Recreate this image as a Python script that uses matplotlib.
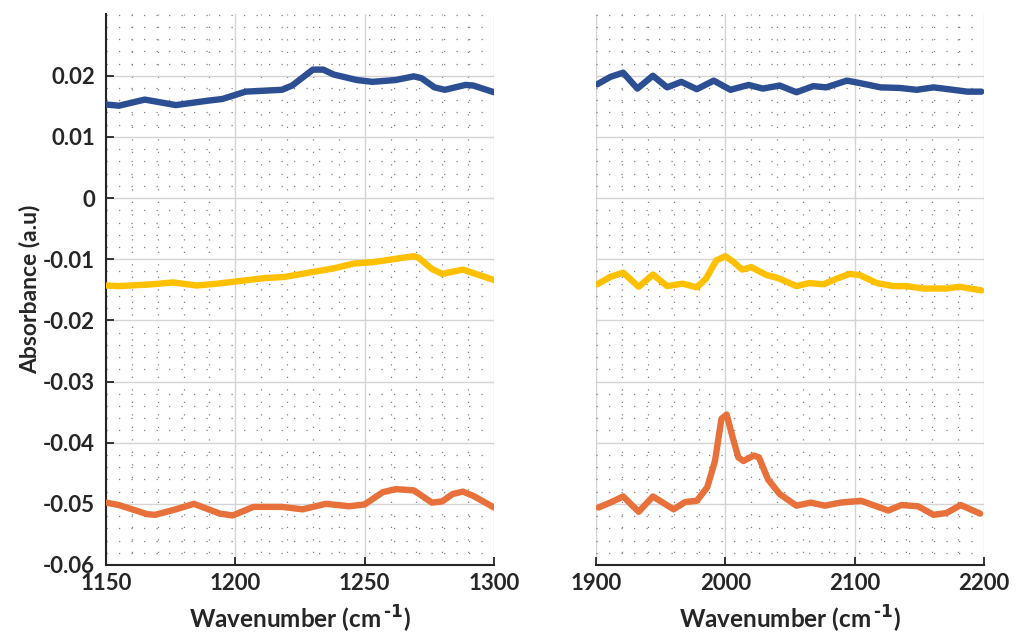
import matplotlib.pyplot as plt
from matplotlib.ticker import MultipleLocator, FixedLocator

plt.rcParams['font.family'] = ['Lato', 'DejaVu Sans']
plt.rcParams['font.weight'] = 'bold'
plt.rcParams['mathtext.default'] = 'bf'

# --- данные: левая область (1150-1300) ---
wn_blue_l = [1150, 1155, 1165, 1177, 1189, 1195, 1204, 1218, 1222, 1230, 1234, 1238,
             1247, 1253, 1262, 1269, 1272, 1277, 1281, 1289, 1292, 1300]
ab_blue_l = [0.0153, 0.0151, 0.0161, 0.0152, 0.0159, 0.0162, 0.0174, 0.0177, 0.0184,
             0.0210, 0.0210, 0.0202, 0.0193, 0.0190, 0.0193, 0.0199, 0.0196, 0.0181,
             0.0177, 0.0185, 0.0184, 0.0173]

wn_yel_l = [1150, 1155, 1168, 1176, 1185, 1193, 1211, 1219, 1238, 1246, 1253, 1261,
            1269, 1271, 1276, 1280, 1288, 1295, 1300]
ab_yel_l = [-0.0143, -0.0144, -0.0141, -0.0138, -0.0143, -0.0140, -0.0131, -0.0129,
            -0.0115, -0.0107, -0.0105, -0.0100, -0.0095, -0.0098, -0.0116, -0.0124,
            -0.0117, -0.0127, -0.0134]

wn_org_l = [1150, 1155, 1166, 1169, 1177, 1184, 1194, 1199, 1207, 1218, 1226, 1235,
            1244, 1250, 1257, 1262, 1269, 1276, 1280, 1284, 1288, 1292, 1300]
ab_org_l = [-0.0498, -0.0502, -0.0517, -0.0518, -0.0509, -0.0500, -0.0516, -0.0519,
            -0.0505, -0.0505, -0.0509, -0.0500, -0.0504, -0.0501, -0.0481, -0.0476,
            -0.0478, -0.0498, -0.0496, -0.0484, -0.0480, -0.0487, -0.0506]

# --- данные: правая область (1900-2200) ---
wn_blue_r = [1901, 1911, 1921, 1932, 1944, 1955, 1966, 1978, 1991, 2004, 2018, 2029,
             2042, 2055, 2068, 2078, 2094, 2104, 2120, 2135, 2148, 2161, 2176, 2187, 2198]
ab_blue_r = [0.0186, 0.0198, 0.0205, 0.0179, 0.0200, 0.0181, 0.0190, 0.0178, 0.0192,
             0.0177, 0.0185, 0.0179, 0.0184, 0.0173, 0.0183, 0.0181, 0.0192, 0.0188,
             0.0181, 0.0180, 0.0177, 0.0181, 0.0177, 0.0174, 0.0174]

wn_yel_r = [1901, 1911, 1921, 1933, 1944, 1955, 1967, 1978, 1985, 1993, 2000, 2006,
            2013, 2020, 2032, 2041, 2055, 2065, 2076, 2086, 2096, 2104, 2117, 2130,
            2140, 2153, 2171, 2181, 2198]
ab_yel_r = [-0.0141, -0.0129, -0.0122, -0.0145, -0.0125, -0.0144, -0.0140, -0.0146,
            -0.0132, -0.0102, -0.0095, -0.0104, -0.0117, -0.0113, -0.0126, -0.0131,
            -0.0144, -0.0139, -0.0141, -0.0132, -0.0124, -0.0126, -0.0139, -0.0144,
            -0.0144, -0.0148, -0.0148, -0.0145, -0.0151]

wn_org_r = [1902, 1911, 1921, 1933, 1944, 1960, 1969, 1978, 1986, 1992, 1997, 2001,
            2005, 2010, 2014, 2022, 2026, 2033, 2042, 2055, 2066, 2077, 2089, 2105,
            2126, 2136, 2149, 2161, 2171, 2182, 2197]
ab_org_r = [-0.0506, -0.0498, -0.0488, -0.0513, -0.0488, -0.0509, -0.0497, -0.0495,
            -0.0473, -0.0430, -0.0361, -0.0354, -0.0386, -0.0424, -0.0430, -0.0421,
            -0.0424, -0.0460, -0.0484, -0.0503, -0.0498, -0.0503, -0.0498, -0.0495,
            -0.0511, -0.0502, -0.0504, -0.0518, -0.0515, -0.0502, -0.0516]

y_ticks = [-0.06, -0.05, -0.04, -0.03, -0.02, -0.01, 0, 0.01, 0.02]
y_labels = ['-0.06', '-0.05', '-0.04', '-0.03', '-0.02', '-0.01', '0', '0.01', '0.02']
x_ticks_l = [1150, 1200, 1250, 1300]
x_ticks_r = [1900, 2000, 2100, 2200]

c_blue = '#2C4F94'
c_yel = '#FFC000'
c_org = '#E8703A'

fig = plt.figure(figsize=(10.16, 6.41), dpi=100)
ax1 = fig.add_axes([0.1043, 0.1186, 0.3819, 0.8596])
ax2 = fig.add_axes([0.5866, 0.1186, 0.3819, 0.8596])

for ax, data, xt in [
    (ax1, [(wn_blue_l, ab_blue_l, c_blue), (wn_yel_l, ab_yel_l, c_yel),
           (wn_org_l, ab_org_l, c_org)], x_ticks_l),
    (ax2, [(wn_blue_r, ab_blue_r, c_blue), (wn_yel_r, ab_yel_r, c_yel),
           (wn_org_r, ab_org_r, c_org)], x_ticks_r),
]:
    for x, y, c in data:
        ax.plot(x, y, color=c, linewidth=4.6, solid_joinstyle='round',
                solid_capstyle='round', zorder=3)
    ax.set_xlim(xt[0], xt[-1])
    ax.set_ylim(-0.06, 0.0301)
    ax.xaxis.set_major_locator(FixedLocator(xt))
    ax.xaxis.set_minor_locator(MultipleLocator((xt[1] - xt[0]) / 5))
    ax.yaxis.set_major_locator(FixedLocator(y_ticks))
    ax.yaxis.set_minor_locator(MultipleLocator(0.002))
    ax.grid(True, which='major', color='#d4d4d4', linewidth=1.0, linestyle='-', zorder=0)
    ax.grid(True, which='minor', color='#808080', linewidth=0.9,
            linestyle=(0, (1, 9)), zorder=0)
    ax.set_axisbelow(True)
    ax.spines['top'].set_visible(False)
    ax.spines['right'].set_visible(False)
    ax.spines['bottom'].set_color('#262626')
    ax.spines['bottom'].set_linewidth(1.5)
    ax.tick_params(axis='x', which='major', direction='in', length=6, width=1.3,
                   color='#262626', labelsize=16, pad=6, labelcolor='#262626')
    ax.tick_params(which='minor', length=0)
    ax.set_xticklabels([str(v) for v in xt])
    ax.set_xlabel('Wavenumber (cm$^{\\,\\text{-}1}$)', fontsize=17.5, fontweight='bold',
                  color='#262626', labelpad=7)

ax1.spines['left'].set_color('#262626')
ax1.spines['left'].set_linewidth(1.5)
ax1.tick_params(axis='y', which='major', direction='in', length=6, width=1.3,
                color='#262626', labelsize=16, pad=8, labelcolor='#262626')
ax1.set_yticklabels(y_labels)
ax1.set_ylabel('Absorbance (a.u)', fontsize=16.5, fontweight='bold', color='#262626',
               labelpad=2)

ax2.spines['left'].set_visible(False)
ax2.tick_params(axis='y', which='both', left=False, labelleft=False)

fig.savefig('out.png', dpi=100, facecolor='white')
